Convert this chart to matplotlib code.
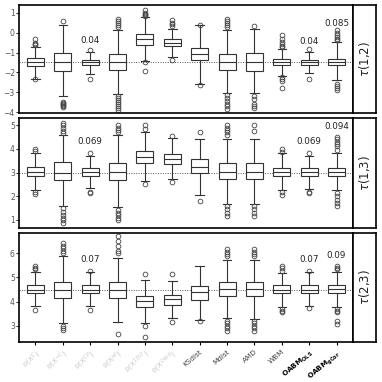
import matplotlib
matplotlib.use("Agg")
import matplotlib.pyplot as plt

# x categories
labels = ["p(X$^{C}$)", "p(X$^{-C}$)", "p(X$^{CP}$)", "p(X$^{all}$)", "p(X$^{1357}$)", "p(X$^{2468}$)",
          "KSdist", "Mdist", "AMD", "WBM", r"$\mathbf{OABM_{OLS}}$", r"$\mathbf{OABM_{gCor}}$"]
label_colors = ["#c8c8c8"] * 6 + ["#444444"] * 4 + ["black"] * 2

strips = [r"$\tau$(1,2)", r"$\tau$(1,3)", r"$\tau$(2,3)"]
truth = [-1.5, 3.0, 4.5]
ylims = [(-4.05, 1.4), (0.66, 5.3), (2.34, 6.83)]
yticks = [[-4, -3, -2, -1, 0, 1], [1, 2, 3, 4, 5], [3, 4, 5, 6]]

# tau(1,2)
med12 = [-1.5, -1.48, -1.48, -1.48, -0.33, -0.5, -1.09, -1.49, -1.49, -1.49, -1.49, -1.49]
q1_12 = [-1.69, -1.95, -1.61, -1.89, -0.63, -0.67, -1.39, -1.89, -1.93, -1.64, -1.61, -1.62]
q3_12 = [-1.27, -1.0, -1.36, -1.05, -0.08, -0.33, -0.75, -1.05, -1.02, -1.34, -1.36, -1.34]
lo12 = [-2.33, -3.21, -2.06, -3.07, -1.42, -1.22, -2.57, -3.04, -3.04, -2.2, -2.03, -2.4]
hi12 = [-0.72, 0.41, -0.97, 0.12, 0.8, 0.21, 0.41, 0.12, 0.21, -0.8, -0.97, -0.46]
out12 = [[-0.3, -0.5, -0.55, -0.6, -2.33],
         [0.6, -3.5, -3.55, -3.6, -3.65, -3.7, -3.75],
         [-0.85, -2.32],
         [0.7, 0.6, 0.5, 0.4, 0.3, -3.2, -3.3, -3.4, -3.5, -3.6, -3.7, -3.8, -3.9],
         [1.17, 1.0, 0.95, 0.9, 0.85, -1.5, -1.93],
         [0.66, 0.5, 0.42, 0.33, -1.35],
         [0.41, -2.62],
         [0.7, 0.6, 0.5, 0.4, 0.3, -3.16, -3.3, -3.45, -3.6, -3.7, -3.83],
         [0.35, -3.2, -3.35, -3.6, -3.7, -3.8],
         [-0.12, -0.3, -0.45, -0.55, -0.65, -0.7, -2.25, -2.35, -2.45, -2.77],
         [-0.84, -2.32],
         [0.12, 0.0, -0.1, -0.2, -0.3, -0.37, -2.6, -2.7, -2.8, -2.9]]
txt12 = {2: (-0.41, "0.04"), 10: (-0.42, "0.04"), 11: (0.49, "0.085")}

# tau(1,3)
med13 = [3.02, 3.0, 3.02, 3.02, 3.64, 3.57, 3.25, 3.01, 3.01, 3.02, 3.02, 3.02]
q1_13 = [2.86, 2.69, 2.86, 2.67, 3.42, 3.35, 2.97, 2.72, 2.72, 2.86, 2.86, 2.86]
q3_13 = [3.22, 3.43, 3.2, 3.42, 3.92, 3.78, 3.56, 3.39, 3.39, 3.21, 3.2, 3.21]
lo13 = [2.27, 1.58, 2.34, 1.54, 2.65, 2.74, 2.07, 1.69, 1.69, 2.27, 2.32, 2.27]
hi13 = [3.81, 4.58, 3.71, 4.58, 4.72, 4.44, 4.41, 4.41, 4.41, 3.81, 3.71, 3.81]
out13 = [[4.0, 3.9, 2.2, 2.1],
         [5.1, 5.0, 4.9, 4.75, 4.65, 1.5, 1.35, 1.2, 1.1, 1.0, 0.88],
         [3.81, 2.2, 2.13],
         [5.0, 4.9, 4.8, 4.7, 1.44, 1.3, 1.2, 1.1, 1.02],
         [5.0, 4.85, 2.51],
         [4.55, 2.62],
         [4.72, 1.79],
         [5.0, 4.9, 4.8, 4.7, 4.58, 1.58, 1.45, 1.3, 1.16],
         [5.0, 4.74, 1.58, 1.45, 1.3, 1.16],
         [4.0, 3.88, 2.2, 2.04],
         [3.81, 2.2, 2.13],
         [4.5, 4.4, 4.3, 4.2, 4.1, 3.95, 2.13, 2.0, 1.85, 1.7, 1.58]]
txt13 = {2: (4.3, "0.069"), 10: (4.3, "0.069"), 11: (4.96, "0.094")}

# tau(2,3)
med23 = [4.5, 4.5, 4.5, 4.5, 4.01, 4.11, 4.38, 4.52, 4.52, 4.5, 4.5, 4.51]
q1_23 = [4.34, 4.13, 4.34, 4.17, 3.76, 3.87, 4.06, 4.22, 4.22, 4.34, 4.34, 4.34]
q3_23 = [4.7, 4.83, 4.7, 4.83, 4.24, 4.28, 4.66, 4.83, 4.83, 4.68, 4.68, 4.7]
lo23 = [3.8, 3.12, 3.8, 3.18, 3.12, 3.31, 3.25, 3.32, 3.28, 3.76, 3.8, 3.76]
hi23 = [5.21, 5.89, 5.21, 5.8, 4.89, 4.86, 5.48, 5.73, 5.73, 5.18, 5.21, 5.23]
out23 = [[5.48, 5.4, 5.34, 3.67],
         [6.41, 6.3, 6.2, 6.1, 6.0, 2.98, 2.9, 2.84],
         [5.28, 3.67],
         [6.69, 6.5, 6.3, 6.1, 6.0, 2.66],
         [5.14, 3.0, 2.55],
         [5.14, 3.14],
         [3.21],
         [6.18, 6.05, 5.95, 5.89, 3.21, 3.1, 3.0, 2.9, 2.8],
         [6.18, 6.05, 5.95, 5.89, 3.21, 3.1, 3.0, 2.9, 2.8],
         [5.48, 5.38, 5.28, 3.69, 3.62, 3.56],
         [5.28, 3.72],
         [5.48, 5.4, 5.34, 3.69, 3.62, 3.56, 3.21, 3.08]]
txt23 = {2: (5.72, "0.07"), 10: (5.72, "0.07"), 11: (5.89, "0.09")}

panels = [(med12, q1_12, q3_12, lo12, hi12, out12, txt12),
          (med13, q1_13, q3_13, lo13, hi13, out13, txt13),
          (med23, q1_23, q3_23, lo23, hi23, out23, txt23)]

fig = plt.figure(figsize=(3.82, 3.82), dpi=100)
tops = [0.987, 0.691, 0.390]
bots = [0.704, 0.403, 0.105]
x0, x1, s1 = 0.0497, 0.924, 0.984
pos = list(range(1, len(labels) + 1))

for k, (med, q1, q3, lo, hi, out, txt) in enumerate(panels):
    ax = fig.add_axes([x0, bots[k], x1 - x0, tops[k] - bots[k]])
    stats = []
    for i in range(len(labels)):
        stats.append(dict(med=med[i], q1=q1[i], q3=q3[i], whislo=lo[i], whishi=hi[i], fliers=out[i]))
    ax.axhline(truth[k], color="#555555", ls=(0, (1, 1.5)), lw=0.7, zorder=0)
    ax.bxp(stats, positions=pos, widths=0.62, patch_artist=True, showcaps=True,
           boxprops=dict(facecolor="white", edgecolor="#333333", lw=0.8),
           medianprops=dict(color="#333333", lw=0.8),
           whiskerprops=dict(color="#333333", lw=0.8),
           capprops=dict(color="#333333", lw=0.8),
           flierprops=dict(marker="o", markersize=3.4, markerfacecolor="none",
                           markeredgecolor="#444444", markeredgewidth=0.6))
    for i, (yv, s) in txt.items():
        ax.text(pos[i], yv, s, ha="center", va="center", fontsize=6.3, color="#222222")
    ax.set_xlim(0.4, 12.6)
    ax.set_ylim(*ylims[k])
    ax.set_yticks(yticks[k])
    ax.tick_params(axis="y", labelsize=5.5, labelcolor="#555555", length=2, width=0.6, pad=1)
    ax.set_xticks(pos)
    if k == 2:
        ax.set_xticklabels(labels, rotation=40, ha="right", rotation_mode="anchor", fontsize=5.2)
        for t, c in zip(ax.get_xticklabels(), label_colors):
            t.set_color(c)
        ax.tick_params(axis="x", length=2.5, width=0.8, pad=2)
    else:
        ax.tick_params(axis="x", length=0, labelbottom=False)
    for sp in ax.spines.values():
        sp.set_linewidth(1.2)
        sp.set_color("black")

    sx = fig.add_axes([x1, bots[k], s1 - x1, tops[k] - bots[k]])
    sx.set_xticks([])
    sx.set_yticks([])
    for sp in sx.spines.values():
        sp.set_linewidth(1.2)
    sx.text(0.5, 0.5, strips[k], rotation=90, ha="center", va="center", fontsize=8.5,
            color="#222222", transform=sx.transAxes)

fig.savefig("out.png", dpi=100)
